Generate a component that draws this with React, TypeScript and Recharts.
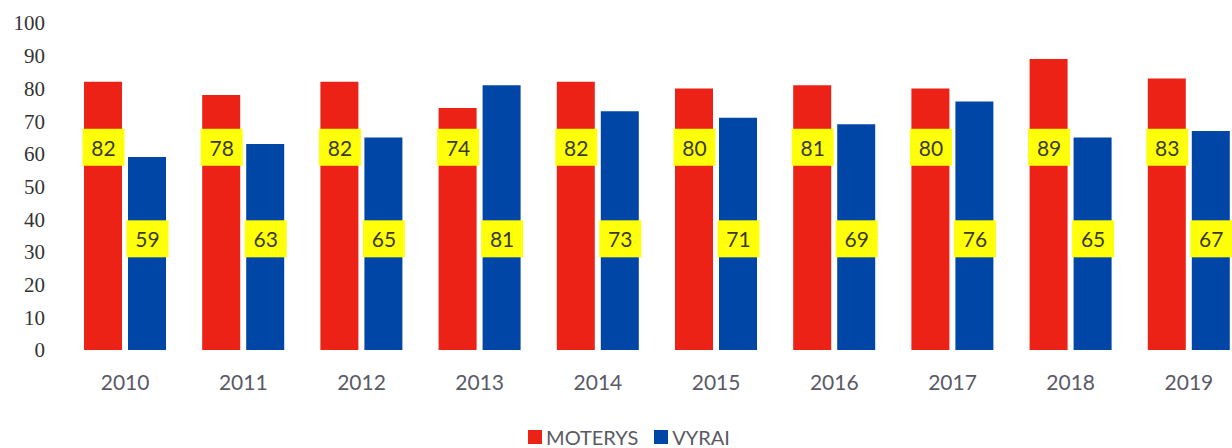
import React from "react";
import { BarChart, Bar, XAxis, YAxis, LabelList } from "recharts";

const YEARS = ["2010", "2011", "2012", "2013", "2014", "2015", "2016", "2017", "2018", "2019"];
const MOTERYS = [82, 78, 82, 74, 82, 80, 81, 80, 89, 83];
const VYRAI = [59, 63, 65, 81, 73, 71, 69, 76, 65, 67];
const Y_TICKS = [0, 10, 20, 30, 40, 50, 60, 70, 80, 90, 100];

const RED = "#EC2217";
const BLUE = "#0046A6";
const YELLOW = "#FFFF0A";

const data = YEARS.map((y, i) => ({ year: y, MOTERYS: MOTERYS[i], VYRAI: VYRAI[i] }));

// yellow box label, anchored at a fixed level inside the bar
function boxLabel(anchor: number) {
  return (props: any) => {
    const { x, y, width, height, value } = props;
    const bottom = y + height;
    const unit = height / value;
    const cy = bottom - anchor * unit;
    const cx = x + width / 2 + 0.5;
    return (
      <g>
        <rect x={cx - 21} y={cy - 18.5} width={42} height={37} fill={YELLOW} />
        <text
          x={cx}
          y={cy}
          textAnchor="middle"
          dominantBaseline="central"
          fontFamily="Lato, sans-serif"
          fontSize={21}
          fill="#3a3a2a"
        >
          {value}
        </text>
      </g>
    );
  };
}

function LegendBox() {
  const item = (color: string, text: string) => (
    <span style={{ display: "inline-flex", alignItems: "center", marginRight: 16 }}>
      <span style={{ width: 14, height: 14, background: color, display: "inline-block", marginRight: 4 }} />
      <span>{text}</span>
    </span>
  );
  return (
    <div
      style={{
        height: 48,
        display: "flex",
        alignItems: "flex-end",
        justifyContent: "center",
        paddingLeft: 26,
        fontFamily: "Lato, sans-serif",
        fontSize: 20,
        color: "#5a5a62",
        lineHeight: "22px",
      }}
    >
      {item(RED, "MOTERYS")}
      {item(BLUE, "VYRAI")}
    </div>
  );
}

export default function App() {
  return (
    <div
      style={{
        position: "fixed",
        left: 0,
        top: 0,
        width: 1232,
        height: 448,
        overflow: "hidden",
        background: "#fff",
      }}
    >
      <BarChart
        width={1248}
        height={448}
        data={data}
        margin={{ top: 23, right: 0, left: 0, bottom: 48 }}
        barSize={38}
        barGap={6}
      >
        <XAxis
          dataKey="year"
          axisLine={false}
          tickLine={false}
          tickSize={0}
          tickMargin={25}
          height={50}
          tick={{ fontFamily: "Lato, sans-serif", fontSize: 21, fill: "#5a5a66" }}
        />
        <YAxis
          domain={[0, 100]}
          ticks={Y_TICKS}
          axisLine={false}
          tickLine={false}
          tickSize={0}
          tickMargin={21}
          width={66}
          tick={{ fontFamily: "'Liberation Serif', serif", fontSize: 21, fill: "#333" }}
        />
        <Bar dataKey="MOTERYS" fill={RED} isAnimationActive={false}>
          <LabelList dataKey="MOTERYS" content={boxLabel(62)} />
        </Bar>
        <Bar dataKey="VYRAI" fill={BLUE} isAnimationActive={false}>
          <LabelList dataKey="VYRAI" content={boxLabel(34)} />
        </Bar>
      </BarChart>
      {/* legend drawn as a plain block under the chart area */}
      <div style={{ position: "absolute", left: 0, top: 400, width: 1248 }}>
        <LegendBox />
      </div>
    </div>
  );
}
